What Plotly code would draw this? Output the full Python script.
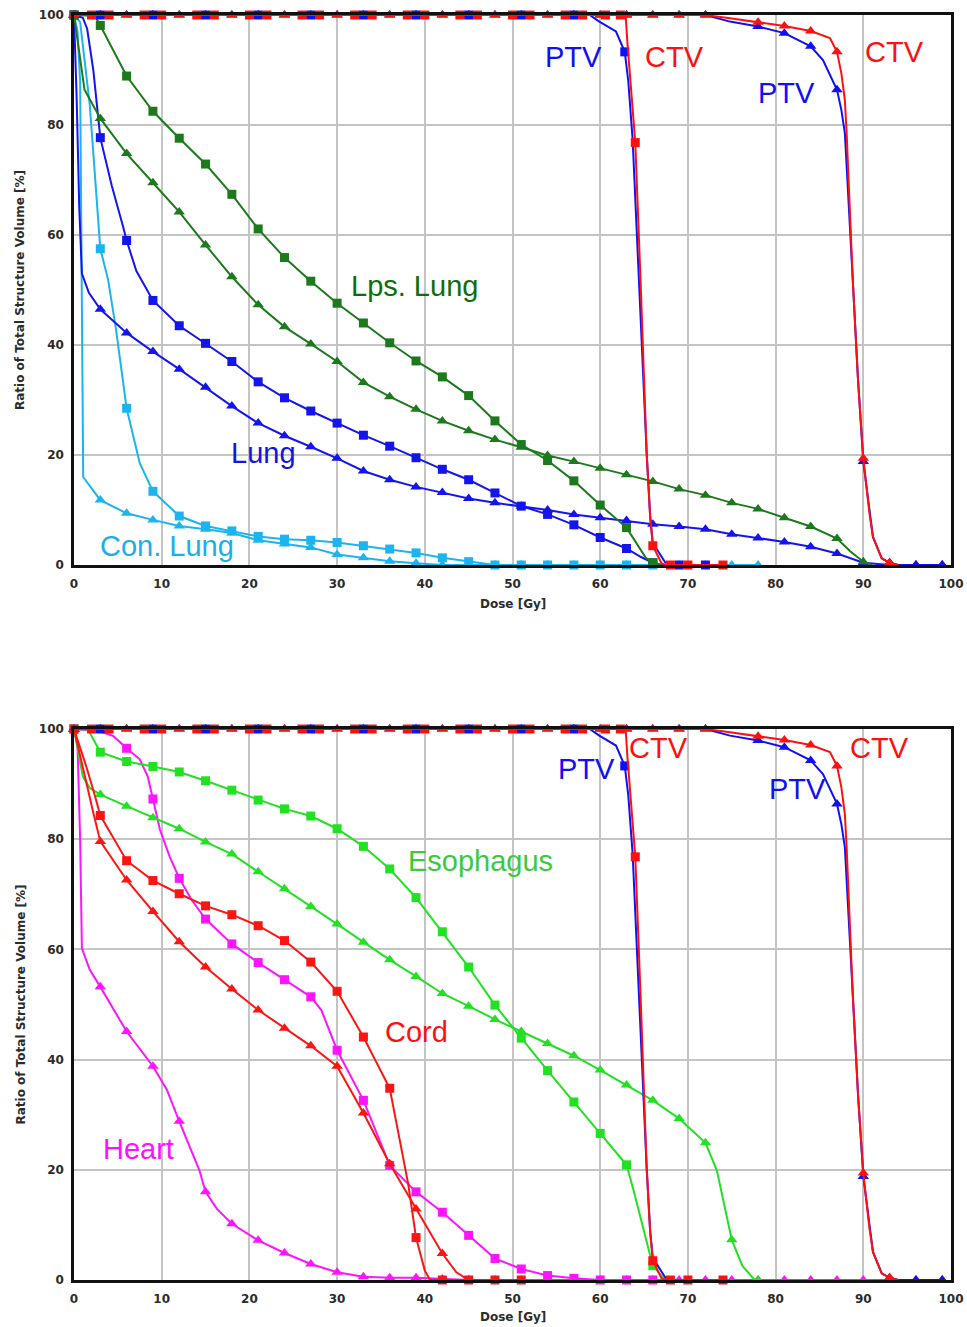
import plotly.graph_objects as go

# ================= TOP PANEL (lung structures) =================
lps_sq_dose = [0, 1.5, 2.5, 3, 6, 9, 12, 15, 18, 21, 24, 27, 30, 33, 36, 39, 42, 45, 48, 51, 54, 57, 60, 63, 65.2, 66, 67]
lps_sq_vol = [100, 99.9, 99.5, 98.1, 88.9, 82.5, 77.6, 72.9, 67.4, 61.1, 55.9, 51.6, 47.6, 44.0, 40.4, 37.1, 34.2, 30.8, 26.2, 21.9, 19.0, 15.3, 10.9, 6.8, 1.3, 0.4, 0]

lps_tri_dose = [0, 0.5, 1.2, 3, 6, 9, 12, 15, 18, 21, 24, 27, 30, 33, 36, 39, 42, 45, 48, 51, 54, 57, 60, 63, 66, 69, 72, 75, 78, 81, 84, 87, 88.5, 90, 91]
lps_tri_vol = [100, 94.4, 86.4, 81.2, 74.8, 69.5, 64.2, 58.2, 52.4, 47.3, 43.3, 40.2, 37.0, 33.2, 30.6, 28.3, 26.2, 24.4, 22.8, 21.4, 19.9, 18.8, 17.6, 16.4, 15.2, 13.8, 12.7, 11.3, 10.2, 8.6, 7.0, 4.8, 2.5, 0.6, 0]

lung_sq_dose = [0, 1, 1.5, 2.2, 3, 4.3, 5.6, 6, 7.1, 9, 12, 15, 18, 21, 24, 27, 30, 33, 36, 39, 42, 45, 48, 51, 54, 57, 60, 63, 64.6, 66, 67, 69, 72]
lung_sq_vol = [100, 99.5, 97.5, 90, 77.7, 69, 61.5, 59.0, 53.5, 48.1, 43.5, 40.3, 37.0, 33.3, 30.4, 28.0, 25.8, 23.6, 21.6, 19.5, 17.4, 15.5, 13.1, 10.7, 9.2, 7.3, 5.0, 3.0, 1.5, 0.4, 0, 0, 0]

lung_tri_dose = [0, 0.3, 0.6, 0.9, 1.7, 3, 6, 9, 12, 15, 18, 21, 24, 27, 30, 33, 36, 39, 42, 45, 48, 51, 54, 57, 60, 63, 66, 69, 72, 75, 78, 81, 84, 87, 90, 93, 96, 99]
lung_tri_vol = [100, 85, 65, 53, 49.5, 46.5, 42.2, 38.8, 35.6, 32.3, 28.9, 25.8, 23.5, 21.5, 19.4, 17.1, 15.5, 14.2, 13.2, 12.1, 11.3, 10.7, 10.0, 9.2, 8.6, 8.1, 7.4, 7.0, 6.5, 5.6, 4.9, 4.2, 3.3, 2.1, 0.4, 0, 0, 0]

con_sq_dose = [0, 0.7, 1.8, 3, 3.9, 4.8, 6, 7.5, 9, 12, 15, 18, 21, 24, 27, 30, 33, 36, 39, 42, 45, 48, 51, 54, 57, 60, 63, 66]
con_sq_vol = [100, 98.7, 83.6, 57.5, 51.8, 42.7, 28.5, 18.5, 13.4, 8.9, 7.1, 6.2, 5.2, 4.7, 4.5, 4.1, 3.5, 2.9, 2.2, 1.3, 0.6, 0, 0, 0, 0, 0, 0, 0]

con_tri_dose = [0, 0.4, 0.7, 0.85, 0.95, 1.05, 3, 6, 9, 12, 15, 18, 21, 24, 27, 30, 33, 36, 39, 42, 45, 48, 51, 54, 57, 60, 63, 66, 69, 72, 75, 78]
con_tri_vol = [100, 97, 88, 60, 30, 16, 11.8, 9.4, 8.2, 7.1, 6.5, 5.8, 4.5, 3.8, 3.2, 1.9, 1.3, 0.7, 0.3, 0, 0, 0, 0, 0, 0, 0, 0, 0, 0, 0, 0, 0]

# ================= BOTTOM PANEL (mediastinal structures) =================
eso_sq_dose = [0, 1.6, 3, 6, 9, 12, 15, 18, 21, 24, 27, 30, 33, 36, 39, 42, 45, 48, 51, 54, 57, 60, 63, 63.8, 65, 66, 67.2, 68]
eso_sq_vol = [100, 99.9, 95.8, 94.1, 93.2, 92.2, 90.6, 88.9, 87.1, 85.5, 84.2, 81.9, 78.7, 74.6, 69.4, 63.2, 56.8, 49.9, 43.9, 38.0, 32.3, 26.6, 20.9, 16.3, 9.0, 2.6, 0.4, 0]

eso_tri_dose = [0, 0.5, 1.0, 1.8, 3, 6, 9, 12, 15, 18, 21, 24, 27, 30, 33, 36, 39, 42, 45, 48, 51, 54, 57, 60, 63, 66, 69, 72, 73.3, 74.2, 75, 76.2, 77.5, 78]
eso_tri_vol = [100, 96, 91.4, 89.3, 88.1, 86.0, 83.9, 81.9, 79.5, 77.3, 74.1, 71.0, 67.8, 64.6, 61.3, 58.1, 55.1, 52.0, 49.7, 47.3, 45.1, 42.9, 40.7, 38.1, 35.4, 32.6, 29.3, 24.9, 19.9, 13.2, 7.3, 2.6, 0.2, 0]

cord_sq_dose = [0, 1.4, 2.4, 3, 6, 9, 12, 15, 18, 21, 24, 27, 30, 33, 36, 37.1, 38.1, 39, 40.0, 40.6, 42, 45, 48, 51]
cord_sq_vol = [100, 93.2, 87.8, 84.3, 76.1, 72.5, 70.1, 67.9, 66.3, 64.3, 61.6, 57.7, 52.4, 44.1, 34.8, 25.4, 17.5, 7.7, 1.7, 0, 0, 0, 0, 0]

cord_tri_dose = [0, 1.2, 2.2, 3, 6, 9, 12, 15, 18, 21, 24, 27, 30, 33, 36, 39, 42, 43.6, 44.7, 45]
cord_tri_vol = [100, 91.4, 84.8, 79.6, 72.6, 66.9, 61.4, 56.8, 52.8, 49.0, 45.7, 42.5, 38.8, 30.3, 21.1, 12.9, 4.8, 1.4, 0.2, 0]

heart_sq_dose = [0, 2.9, 4.5, 6, 7.5, 8.4, 9, 9.8, 10.9, 12, 13.4, 15, 18, 21, 24, 27, 28.2, 30, 33, 36, 39, 42, 45, 48, 51, 54, 57, 60, 63, 66]
heart_sq_vol = [100, 99.6, 98.7, 96.5, 94.5, 91.4, 87.3, 81.7, 76.9, 72.9, 69.0, 65.5, 61.0, 57.6, 54.5, 51.4, 49.0, 41.7, 32.6, 20.8, 16.0, 12.3, 8.1, 3.9, 2.0, 0.8, 0.3, 0, 0, 0]

heart_tri_dose = [0, 0.4, 0.7, 0.9, 1.8, 3, 6, 9, 10.6, 12, 14.3, 15, 16.3, 18, 21, 24, 27, 30, 33, 36, 39, 42, 45, 48, 51, 54, 57, 60, 63, 66, 69, 72, 75, 78, 81, 84, 87, 90, 93, 96, 99]
heart_tri_vol = [100, 97, 80, 60.2, 56.3, 53.2, 45.1, 38.8, 34.5, 28.8, 19.9, 16.0, 12.9, 10.2, 7.2, 4.9, 2.9, 1.4, 0.6, 0.4, 0.4, 0.2, 0, 0, 0, 0, 0, 0, 0, 0, 0, 0, 0, 0, 0, 0, 0, 0, 0, 0, 0]

# ================= TARGETS (identical in both panels) =================
ptv_sq_dose = [0, 58.8, 59.9, 61.8, 62.8, 63.2, 63.7, 64.4, 65.3, 65.7, 66.0, 67.4, 68]
ptv_sq_vol = [100, 100, 98.8, 97.0, 93.3, 88.0, 77.3, 51.8, 20.3, 8.8, 4.0, 0.5, 0]
ptv_sq_mark_dose = [3, 9, 15, 21, 27, 33, 39, 45, 51, 57, 62.8]
ptv_sq_mark_vol = [100, 100, 100, 100, 100, 100, 100, 100, 100, 100, 93.3]

ctv_sq_dose = [0, 62.9, 63.1, 64.0, 64.6, 65.3, 65.7, 66.0, 67.0, 67.5, 74]
ctv_sq_vol = [100, 100, 95.0, 76.8, 51.8, 20.3, 8.6, 3.5, 0.3, 0, 0]
ctv_sq_mark_dose = [2, 4, 8, 10, 14, 16, 20, 22, 26, 28, 32, 34, 38, 40, 44, 46, 50, 52, 56, 58, 60.6, 62.3, 64.0, 66.0, 68, 70, 74]
ctv_sq_mark_vol = [100, 100, 100, 100, 100, 100, 100, 100, 100, 100, 100, 100, 100, 100, 100, 100, 100, 100, 100, 100, 100, 100, 76.8, 3.5, 0, 0, 0]

ptv_tri_dose = [0, 72.0, 74.8, 78, 81, 84, 85.4, 87, 87.5, 87.9, 88.8, 89.4, 90, 90.7, 91.1, 92.1, 93, 94, 99]
ptv_tri_vol = [100, 100, 98.8, 97.9, 96.7, 94.3, 91.8, 86.4, 82.7, 78.5, 51.8, 33.6, 18.8, 9.4, 5.1, 1.2, 0.4, 0, 0]
ptv_tri_mark_dose = [0, 3, 6, 9, 12, 15, 18, 21, 24, 27, 30, 33, 36, 39, 42, 45, 48, 51, 54, 57, 60, 63, 66, 69, 72, 78, 81, 84, 87, 90, 93, 96, 99]
ptv_tri_mark_vol = [100] * 25 + [97.9, 96.7, 94.3, 86.4, 18.8, 0.4, 0, 0]

ctv_tri_dose = [0, 72.0, 74.8, 78, 81, 84, 86.2, 87, 87.5, 87.9, 88.1, 88.8, 89.4, 90, 90.7, 91.1, 92.1, 93, 94]
ctv_tri_vol = [100, 100, 99.4, 98.7, 98.0, 97.1, 95.8, 93.3, 89.4, 84.5, 78.5, 51.8, 33.6, 19.4, 9.4, 5.1, 1.2, 0.4, 0]
ctv_tri_mark_dose = [0, 3, 6, 9, 12, 15, 18, 21, 24, 27, 30, 33, 36, 39, 42, 45, 48, 51, 54, 57, 60, 63, 66, 69, 72, 78, 81, 84, 87, 90, 93]
ctv_tri_mark_vol = [100] * 25 + [98.7, 98.0, 97.1, 93.3, 19.4, 0.4]

# ================= LABELS =================
top_labels = ["PTV", "CTV", "CTV", "PTV", "Lps. Lung", "Lung", "Con. Lung"]
top_label_dose = [57.0, 68.5, 93.6, 81.2, 38.8, 21.6, 10.6]
top_label_vol = [92.3, 92.3, 93.2, 85.8, 50.8, 20.4, 3.5]
bot_labels = ["PTV", "CTV", "CTV", "PTV", "Esophagus", "Cord", "Heart"]
bot_label_dose = [58.4, 66.7, 91.9, 82.5, 46.3, 39.0, 7.4]
bot_label_vol = [92.8, 96.6, 96.6, 89.2, 76.1, 45.0, 23.7]

x_ticks = [0, 10, 20, 30, 40, 50, 60, 70, 80, 90, 100]
y_ticks = [0, 20, 40, 60, 80, 100]

# ---------------- colours ----------------
C_LPS = "#1c7a1c"
C_LUNG = "#1414ee"
C_CON = "#1cb4f0"
C_PTV = "#1010f5"
C_CTV = "#ff1010"
C_ESO = "#22e022"
C_CORD = "#ff1414"
C_HEART = "#ff14ff"
LABEL_COL = {"PTV": "#1010f5", "CTV": "#ff1010", "Lps. Lung": "#0e6e0e", "Lung": "#1414e0",
             "Con. Lung": "#1aaeef", "Esophagus": "#3acb3a", "Cord": "#ff1010", "Heart": "#ff10ff"}

fig = go.Figure()


def add_series(dose, vol, color, symbol, xa, ya, mdose=None, mvol=None):
    fig.add_trace(go.Scatter(x=dose, y=vol, mode="lines", xaxis=xa, yaxis=ya,
                             line=dict(color=color, width=2), cliponaxis=False,
                             hoverinfo="skip", showlegend=False))
    if mdose is None:
        pts = [(d, v) for d, v in zip(dose, vol) if d % 3 == 0]
        mdose = [p[0] for p in pts]
        mvol = [p[1] for p in pts]
    fig.add_trace(go.Scatter(x=mdose, y=mvol, mode="markers", xaxis=xa, yaxis=ya,
                             marker=dict(color=color, symbol=symbol, size=9 if symbol == "square" else 10,
                                         line=dict(width=0)),
                             cliponaxis=False, hoverinfo="skip", showlegend=False))


def add_targets(xa, ya):
    add_series(ptv_tri_dose, ptv_tri_vol, C_PTV, "triangle-up", xa, ya, ptv_tri_mark_dose, ptv_tri_mark_vol)
    add_series(ctv_tri_dose, ctv_tri_vol, C_CTV, "triangle-up", xa, ya, ctv_tri_mark_dose, ctv_tri_mark_vol)
    add_series(ptv_sq_dose, ptv_sq_vol, C_PTV, "square", xa, ya, ptv_sq_mark_dose, ptv_sq_mark_vol)
    add_series(ctv_sq_dose, ctv_sq_vol, C_CTV, "square", xa, ya, ctv_sq_mark_dose, ctv_sq_mark_vol)


# top panel
add_series(con_tri_dose, con_tri_vol, C_CON, "triangle-up", "x", "y")
add_series(con_sq_dose, con_sq_vol, C_CON, "square", "x", "y")
add_series(lung_tri_dose, lung_tri_vol, C_LUNG, "triangle-up", "x", "y")
add_series(lung_sq_dose, lung_sq_vol, C_LUNG, "square", "x", "y")
add_series(lps_tri_dose, lps_tri_vol, C_LPS, "triangle-up", "x", "y")
add_series(lps_sq_dose, lps_sq_vol, C_LPS, "square", "x", "y")
add_targets("x", "y")

# bottom panel
add_series(heart_tri_dose, heart_tri_vol, C_HEART, "triangle-up", "x2", "y2")
add_series(heart_sq_dose, heart_sq_vol, C_HEART, "square", "x2", "y2")
add_series(eso_tri_dose, eso_tri_vol, C_ESO, "triangle-up", "x2", "y2")
add_series(eso_sq_dose, eso_sq_vol, C_ESO, "square", "x2", "y2")
add_series(cord_tri_dose, cord_tri_vol, C_CORD, "triangle-up", "x2", "y2")
add_series(cord_sq_dose, cord_sq_vol, C_CORD, "square", "x2", "y2")
add_targets("x2", "y2")

TICKFONT = dict(family="DejaVu Sans", size=12, color="#2b2b2b", weight="bold")
axis_common = dict(range=[0, 100], showgrid=True, gridcolor="#c4c4c4", gridwidth=2,
                   showline=True, linecolor="#111111", linewidth=2.5, mirror=True,
                   zeroline=False, ticks="", tickfont=TICKFONT, fixedrange=True)

H_TOTAL = 1265.0
top_dom = [(1280 - 565) / H_TOTAL, 1.0]
bot_dom = [0.0, (1280 - 729) / H_TOTAL]

fig.update_layout(
    width=967, height=1327,
    margin=dict(l=74, r=16, t=15, b=47, autoexpand=False),
    paper_bgcolor="white", plot_bgcolor="white",
    showlegend=False,
    xaxis=dict(axis_common, domain=[0, 1], anchor="y", tickvals=x_ticks, ticklabelstandoff=6),
    yaxis=dict(axis_common, domain=top_dom, anchor="x", tickvals=y_ticks, ticklabelstandoff=5),
    xaxis2=dict(axis_common, domain=[0, 1], anchor="y2", tickvals=x_ticks, ticklabelstandoff=6),
    yaxis2=dict(axis_common, domain=bot_dom, anchor="x2", tickvals=y_ticks, ticklabelstandoff=5),
)

annotations = []
for txt, d, v in zip(top_labels, top_label_dose, top_label_vol):
    annotations.append(dict(text=txt, x=d, y=v, xref="x", yref="y", showarrow=False,
                            font=dict(family="Liberation Sans", size=29, color=LABEL_COL[txt])))
for txt, d, v in zip(bot_labels, bot_label_dose, bot_label_vol):
    annotations.append(dict(text=txt, x=d, y=v, xref="x2", yref="y2", showarrow=False,
                            font=dict(family="Liberation Sans", size=29, color=LABEL_COL[txt])))

TITLEFONT = dict(family="DejaVu Sans", size=12, color="#2b2b2b", weight="bold")
for ypix in [604, 1317]:
    annotations.append(dict(text="Dose [Gy]", x=0.5, y=(1280 - ypix) / H_TOTAL, xref="paper", yref="paper",
                            showarrow=False, font=TITLEFONT, xanchor="center", yanchor="middle"))
for ypix in [290, 1004.5]:
    annotations.append(dict(text="Ratio of Total Structure Volume [%]", x=(20 - 74) / 877.0,
                            y=(1280 - ypix) / H_TOTAL, xref="paper", yref="paper", textangle=-90,
                            showarrow=False, font=TITLEFONT, xanchor="center", yanchor="middle"))
fig.update_layout(annotations=annotations)

fig.write_html("out.html", config={"displayModeBar": False},
               post_script="document.body.style.margin='0';document.body.style.overflow='hidden';")
